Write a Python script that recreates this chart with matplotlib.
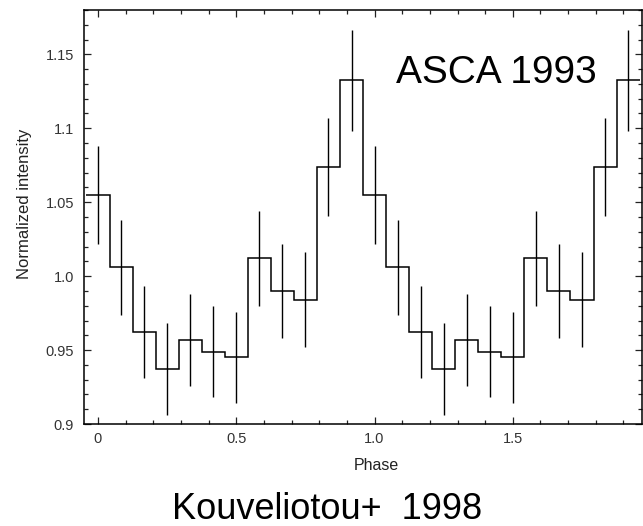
import matplotlib
matplotlib.use('Agg')
import matplotlib.pyplot as plt
import numpy as np
from matplotlib.ticker import MultipleLocator, FixedLocator, FixedFormatter
from matplotlib.patches import Rectangle

plt.rcParams['font.family'] = ['Liberation Sans', 'DejaVu Sans']

# One pulse cycle (12 phase bins), plotted twice
cycle_intensity = [1.055, 1.006, 0.962, 0.937, 0.957, 0.949, 0.945,
                   1.012, 0.990, 0.984, 1.074, 1.1325]
cycle_error = [0.033, 0.032, 0.031, 0.031, 0.031, 0.031, 0.031,
               0.032, 0.032, 0.032, 0.033, 0.034]
n_cycles = 2
bins_per_cycle = 12

xtick_values = [0, 0.5, 1.0, 1.5]
xtick_labels = ['0', '0.5', '1.0', '1.5']
ytick_values = [0.9, 0.95, 1.0, 1.05, 1.1, 1.15]
ytick_labels = ['0.9', '0.95', '1.0', '1.05', '1.1', '1.15']

intensity = np.tile(cycle_intensity, n_cycles)
error = np.tile(cycle_error, n_cycles)
phase = np.arange(len(intensity)) / bins_per_cycle
edges = (np.arange(len(intensity) + 1) - 0.5) / bins_per_cycle

W, H = 643, 526
fig = plt.figure(figsize=(W / 100, H / 100), dpi=100)
ax = fig.add_axes([84.3 / W, 102 / H, 557.7 / W, 414 / H])

ax.stairs(intensity, edges, baseline=None, color='black', linewidth=1.1)
ax.errorbar(phase, intensity, yerr=error, fmt='none', ecolor='black',
            elinewidth=1.0, capsize=0)

ax.set_xlim(-0.0495, 1.967)
ax.set_ylim(0.9, 1.18)

ax.xaxis.set_major_locator(FixedLocator(xtick_values))
ax.xaxis.set_major_formatter(FixedFormatter(xtick_labels))
ax.xaxis.set_minor_locator(MultipleLocator(0.1))
ax.yaxis.set_major_locator(FixedLocator(ytick_values))
ax.yaxis.set_major_formatter(FixedFormatter(ytick_labels))
ax.yaxis.set_minor_locator(MultipleLocator(0.01))

ax.tick_params(which='both', direction='in', top=True, right=True,
               labelsize=10.5, labelcolor='#333333', color='#222222')
ax.tick_params(which='major', length=4.7, width=0.9)
ax.tick_params(which='minor', length=2.9, width=0.9)
ax.tick_params(axis='x', which='major', pad=5.5)
ax.tick_params(axis='y', which='major', pad=7.5)
for s in ax.spines.values():
    s.set_linewidth(1.1)

ax.set_ylabel('Normalized intensity', fontsize=12, color='#222222')
ax.yaxis.set_label_coords(-0.0943, 0.532)

fig.text(376.7 / W, (H - 470.5) / H, 'Phase', ha='center', va='baseline',
         fontsize=11.5, color='#222222')
fig.patches.append(Rectangle((0, (H - 485) / H), 1, 15.0 / H,
                             transform=fig.transFigure, facecolor='white',
                             edgecolor='none', zorder=10))

ax.text((396 - 84.3) / 557.7, (424 - 82.7) / 414, 'ASCA 1993',
        transform=ax.transAxes, ha='left', va='baseline', fontsize=28,
        color='black')

fig.text(327.3 / W, (H - 519) / H, 'Kouveliotou+  1998', ha='center',
         va='baseline', fontsize=26, color='black')

fig.savefig('out.png', dpi=100)
